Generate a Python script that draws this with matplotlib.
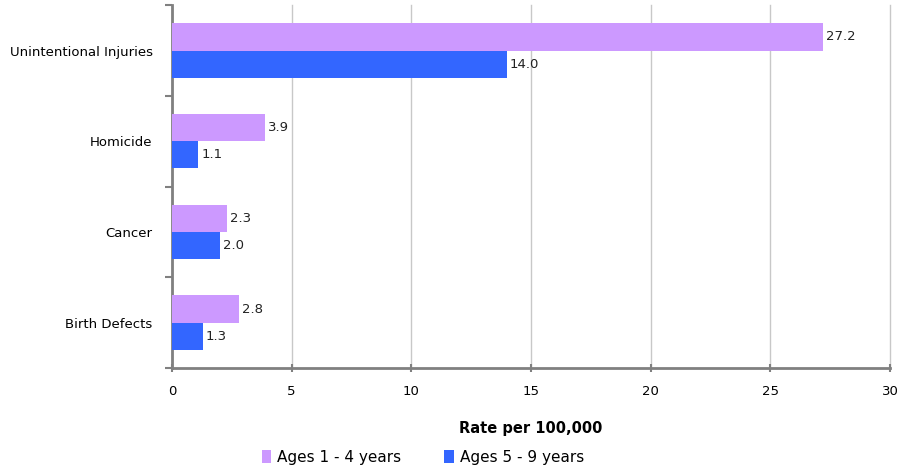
import matplotlib.pyplot as plt
import numpy as np

categories = ['Birth Defects', 'Cancer', 'Homicide', 'Unintentional Injuries']
ages_1_4 = [2.8, 2.3, 3.9, 27.2]
ages_5_9 = [1.3, 2.0, 1.1, 14.0]
series_names = ['Ages 1 - 4 years', 'Ages 5 - 9 years']
xticks = [0, 5, 10, 15, 20, 25, 30]

c1 = '#CC99FF'
c2 = '#3366FF'
grey = '#808080'

plt.rcParams['font.family'] = ['DejaVu Sans']

fig = plt.figure(figsize=(9.02, 4.71), dpi=100)
ax = fig.add_axes([0.1907, 0.2187, 0.7960, 0.7703])

y = np.arange(len(categories))
h = 0.30
b1 = ax.barh(y + h / 2, ages_1_4, height=h, color=c1, label=series_names[0], zorder=3)
b2 = ax.barh(y - h / 2, ages_5_9, height=h, color=c2, label=series_names[1], zorder=3)

for bars, vals in [(b1, ages_1_4), (b2, ages_5_9)]:
    for bar, v in zip(bars, vals):
        ax.text(v + 0.12, bar.get_y() + bar.get_height() / 2, '%.1f' % v,
                va='center', ha='left', fontsize=9.5, color='#222222', zorder=4)

ax.set_xlim(0, 30)
ax.set_ylim(-0.5, len(categories) - 0.5)
ax.set_xticks(xticks)
ax.set_xticklabels([str(t) for t in xticks], fontsize=9.5)
ax.set_yticks(y)
ax.set_yticklabels(categories, fontsize=9.5)
ax.set_yticks(np.arange(-0.5, len(categories), 1), minor=True)

ax.tick_params(axis='y', which='major', length=0, pad=14)
ax.tick_params(axis='y', which='minor', length=5, width=1.5, color=grey, direction='out')
ax.tick_params(axis='x', length=6, width=1.5, color=grey, direction='inout', pad=9)

ax.grid(axis='x', color='#C8C8C8', linewidth=1, zorder=0)
for gl in ax.get_xgridlines():
    gl.set_clip_on(False)
for s in ['top', 'right']:
    ax.spines[s].set_visible(False)
for s in ['left', 'bottom']:
    ax.spines[s].set_color(grey)
    ax.spines[s].set_linewidth(2)

ax.set_xlabel('Rate per 100,000', fontsize=10.5, fontweight='bold', labelpad=17)

fig.legend(handles=[b1, b2], labels=series_names, loc='upper center',
           bbox_to_anchor=(0.469, 0.045), ncol=2, frameon=False, fontsize=11,
           handlelength=0.6, handleheight=0.9, handletextpad=0.4, columnspacing=2.8,
           borderaxespad=0, borderpad=0)

plt.savefig('out.png', dpi=100)
